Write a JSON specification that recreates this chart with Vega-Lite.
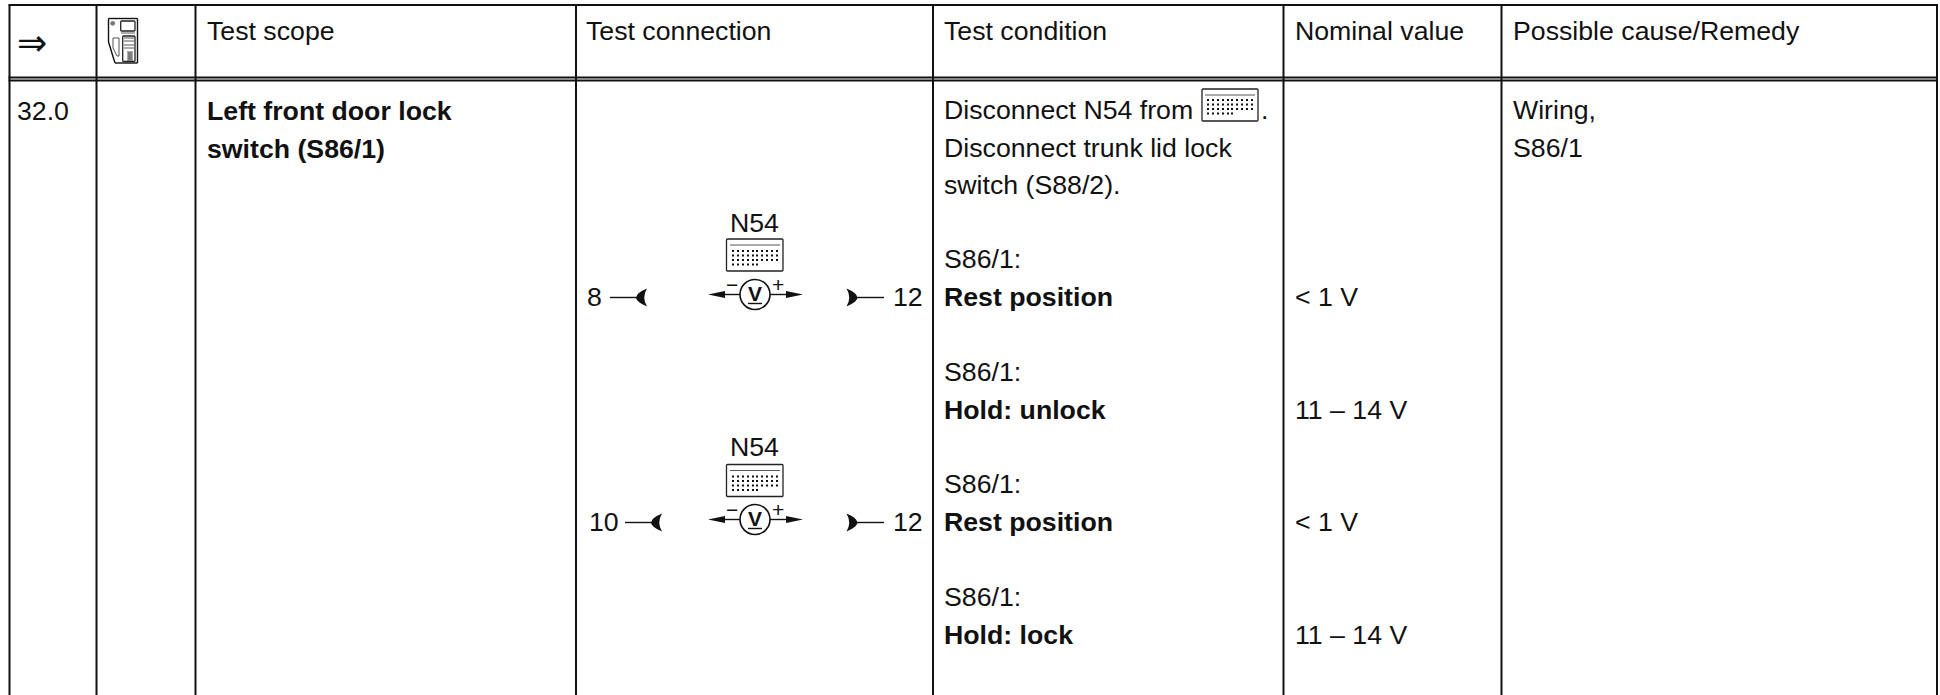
{
"$schema":"https://vega.github.io/schema/vega-lite/v6.json",
"width":1940,"height":695,"padding":0,"autosize":{"type":"none"},
"background":"white",
"config":{"view":{"stroke":null}},
"datasets":{
"plain":[
{"x":207,"y":40,"t":"Test scope"},{"x":586,"y":40,"t":"Test connection"},{"x":944,"y":40,"t":"Test condition"},{"x":1295,"y":40,"t":"Nominal value"},{"x":1513,"y":40,"t":"Possible cause/Remedy"},
{"x":17,"y":120,"t":"32.0"},
{"x":944,"y":119,"t":"Disconnect N54 from"},{"x":1261,"y":119,"t":"."},{"x":944,"y":157,"t":"Disconnect trunk lid lock"},{"x":944,"y":194,"t":"switch (S88/2)."},
{"x":944,"y":268,"t":"S86/1:"},{"x":944,"y":381,"t":"S86/1:"},{"x":944,"y":493,"t":"S86/1:"},{"x":944,"y":606,"t":"S86/1:"},
{"x":1295,"y":306,"t":"< 1 V"},{"x":1295,"y":419,"t":"11 – 14 V"},{"x":1295,"y":531,"t":"< 1 V"},{"x":1295,"y":644,"t":"11 – 14 V"},
{"x":1513,"y":119,"t":"Wiring,"},{"x":1513,"y":157,"t":"S86/1"},
{"x":730,"y":232,"t":"N54"},{"x":730,"y":456,"t":"N54"},
{"x":587,"y":306,"t":"8"},{"x":589,"y":531,"t":"10"},{"x":893,"y":306,"t":"12"},{"x":893,"y":531,"t":"12"}
],
"bold":[
{"x":207,"y":120,"t":"Left front door lock"},{"x":207,"y":158,"t":"switch (S86/1)"},
{"x":944,"y":306,"t":"Rest position"},{"x":944,"y":419,"t":"Hold: unlock"},{"x":944,"y":531,"t":"Rest position"},{"x":944,"y":644,"t":"Hold: lock"}
],
"signs":[
{"x":755,"y":300.5,"t":"V"},{"x":755,"y":525.5,"t":"V"}
],
"pm":[
{"x":732,"y":292,"t":"−"},{"x":778,"y":292,"t":"+"},{"x":732,"y":517,"t":"−"},{"x":778,"y":517,"t":"+"}
],
"heavy":[
{"x":9.5,"y":5,"x2":9.5,"y2":695},{"x":96.5,"y":5,"x2":96.5,"y2":695},{"x":195.5,"y":5,"x2":195.5,"y2":695},{"x":576,"y":5,"x2":576,"y2":695},{"x":933,"y":5,"x2":933,"y2":695},{"x":1283.5,"y":5,"x2":1283.5,"y2":695},{"x":1501.5,"y":5,"x2":1501.5,"y2":695},{"x":1937,"y":5,"x2":1937,"y2":695},
{"x":8.5,"y":5,"x2":1938,"y2":5},{"x":8.5,"y":77.5,"x2":1938,"y2":77.5},{"x":8.5,"y":80.5,"x2":1938,"y2":80.5}
],
"thin":[
{"x":610,"y":297.5,"x2":638,"y2":297.5},{"x":855,"y":297.5,"x2":884,"y2":297.5},{"x":625,"y":522.5,"x2":653,"y2":522.5},{"x":855,"y":522.5,"x2":884,"y2":522.5},
{"x":720,"y":294.5,"x2":740,"y2":294.5},{"x":770,"y":294.5,"x2":790,"y2":294.5},{"x":720,"y":519.5,"x2":740,"y2":519.5},{"x":770,"y":519.5,"x2":790,"y2":519.5},
{"x":748,"y":303.5,"x2":762,"y2":303.5},{"x":748,"y":528.5,"x2":762,"y2":528.5},
{"x":108.5,"y":18.5,"x2":137.5,"y2":18.5},{"x":137.5,"y":18.5,"x2":137.5,"y2":63},{"x":137.5,"y":63,"x2":115,"y2":63},{"x":115,"y":63,"x2":108.5,"y2":42},{"x":108.5,"y":42,"x2":108.5,"y2":18.5}
],
"hair":[
{"x":730,"y":245,"x2":780,"y2":245},{"x":730,"y":470.5,"x2":780,"y2":470.5},{"x":1205,"y":95,"x2":1255,"y2":95},
{"x":113,"y":38,"x2":119,"y2":38},{"x":113,"y":38,"x2":113,"y2":48},{"x":113,"y":48,"x2":117,"y2":56},{"x":117,"y":56,"x2":119,"y2":56},{"x":119,"y":56,"x2":119,"y2":38},
{"x":121,"y":33,"x2":135,"y2":33},{"x":124,"y":38,"x2":134,"y2":38},{"x":124,"y":41,"x2":134,"y2":41},{"x":124,"y":45,"x2":134,"y2":45},{"x":124,"y":48,"x2":134,"y2":48},
{"x":127,"y":52,"x2":133,"y2":52},{"x":127,"y":54,"x2":133,"y2":54},{"x":127,"y":56,"x2":133,"y2":56},{"x":127,"y":58,"x2":133,"y2":58},{"x":127,"y":60,"x2":133,"y2":60},
{"x":129,"y":52,"x2":129,"y2":60},{"x":131,"y":52,"x2":131,"y2":60}
],
"boxes":[
{"x":726.5,"y":239,"x2":783,"y2":271},{"x":726.5,"y":464.5,"x2":783,"y2":496.5},{"x":1202,"y":89,"x2":1258,"y2":121},
{"x":120.7,"y":21,"x2":135,"y2":31},{"x":122.7,"y":36,"x2":135,"y2":61.5}
],
"circles":[{"x":755,"y":294.5},{"x":755,"y":519.5}],
"arrowL":[{"x":716.5,"y":294.5},{"x":716.5,"y":519.5}],
"arrowR":[{"x":794.5,"y":294.5},{"x":794.5,"y":519.5}],
"crescL":[{"x":642.5,"y":297.5},{"x":657.5,"y":522.5}],
"crescR":[{"x":851,"y":297.5},{"x":851,"y":522.5}],
"knob":[{"x":112.7,"y":23.3}],
"dots":[
{"x":733,"y":251},{"x":738,"y":251},{"x":743,"y":251},{"x":748,"y":251},{"x":753,"y":251},{"x":757,"y":251},{"x":762,"y":251},{"x":767,"y":251},{"x":772,"y":251},{"x":777,"y":251},
{"x":733,"y":255.5},{"x":738,"y":255.5},{"x":743,"y":255.5},{"x":748,"y":255.5},{"x":753,"y":255.5},{"x":757,"y":255.5},{"x":762,"y":255.5},{"x":767,"y":255.5},{"x":772,"y":255.5},{"x":777,"y":255.5},
{"x":733,"y":260},{"x":738,"y":260},{"x":743,"y":260},{"x":748,"y":260},{"x":753,"y":260},{"x":757,"y":260},{"x":762,"y":260},{"x":767,"y":260},{"x":772,"y":260},{"x":777,"y":260},
{"x":733,"y":264.5},{"x":738,"y":264.5},{"x":743,"y":264.5},{"x":748,"y":264.5},{"x":753,"y":264.5},{"x":757,"y":264.5},
{"x":733,"y":476.5},{"x":738,"y":476.5},{"x":743,"y":476.5},{"x":748,"y":476.5},{"x":753,"y":476.5},{"x":757,"y":476.5},{"x":762,"y":476.5},{"x":767,"y":476.5},{"x":772,"y":476.5},{"x":777,"y":476.5},
{"x":733,"y":481},{"x":738,"y":481},{"x":743,"y":481},{"x":748,"y":481},{"x":753,"y":481},{"x":757,"y":481},{"x":762,"y":481},{"x":767,"y":481},{"x":772,"y":481},{"x":777,"y":481},
{"x":733,"y":485.5},{"x":738,"y":485.5},{"x":743,"y":485.5},{"x":748,"y":485.5},{"x":753,"y":485.5},{"x":757,"y":485.5},{"x":762,"y":485.5},{"x":767,"y":485.5},{"x":772,"y":485.5},{"x":777,"y":485.5},
{"x":733,"y":490},{"x":738,"y":490},{"x":743,"y":490},{"x":748,"y":490},{"x":753,"y":490},{"x":757,"y":490},
{"x":1208,"y":100},{"x":1213,"y":100},{"x":1218,"y":100},{"x":1223,"y":100},{"x":1228,"y":100},{"x":1232,"y":100},{"x":1237,"y":100},{"x":1242,"y":100},{"x":1247,"y":100},{"x":1252,"y":100},
{"x":1208,"y":104.5},{"x":1213,"y":104.5},{"x":1218,"y":104.5},{"x":1223,"y":104.5},{"x":1228,"y":104.5},{"x":1232,"y":104.5},{"x":1237,"y":104.5},{"x":1242,"y":104.5},{"x":1247,"y":104.5},{"x":1252,"y":104.5},
{"x":1208,"y":109},{"x":1213,"y":109},{"x":1218,"y":109},{"x":1223,"y":109},{"x":1228,"y":109},{"x":1232,"y":109},{"x":1237,"y":109},{"x":1242,"y":109},{"x":1247,"y":109},{"x":1252,"y":109},
{"x":1208,"y":113.5},{"x":1213,"y":113.5},{"x":1218,"y":113.5},{"x":1223,"y":113.5},{"x":1228,"y":113.5},{"x":1232,"y":113.5}
],
"arrow":[{"x":17,"y":55,"t":"⇒"}]
},
"encoding":{
"x":{"field":"x","type":"quantitative","scale":{"domain":[0,1940],"nice":false,"zero":false},"axis":null},
"y":{"field":"y","type":"quantitative","scale":{"domain":[0,695],"reverse":true,"nice":false,"zero":false},"axis":null}
},
"layer":[
{"data":{"name":"heavy"},"mark":{"type":"rule","stroke":"#111","strokeWidth":2},"encoding":{"x2":{"field":"x2"},"y2":{"field":"y2"}}},
{"data":{"name":"circles"},"mark":{"type":"point","shape":"circle","filled":false,"fill":"white","fillOpacity":1,"stroke":"#111","strokeWidth":1.6,"size":900,"opacity":1}},
{"data":{"name":"thin"},"mark":{"type":"rule","stroke":"#111","strokeWidth":1.4},"encoding":{"x2":{"field":"x2"},"y2":{"field":"y2"}}},
{"data":{"name":"hair"},"mark":{"type":"rule","stroke":"#444","strokeWidth":0.9},"encoding":{"x2":{"field":"x2"},"y2":{"field":"y2"}}},
{"data":{"name":"boxes"},"mark":{"type":"rect","fill":null,"fillOpacity":0,"stroke":"#222","strokeWidth":1.3,"cornerRadius":1},"encoding":{"x2":{"field":"x2"},"y2":{"field":"y2"}}},
{"data":{"name":"dots"},"mark":{"type":"point","shape":"square","filled":true,"color":"#111","size":4,"opacity":1,"strokeWidth":0}},
{"data":{"name":"knob"},"mark":{"type":"point","shape":"circle","filled":true,"color":"#777","size":22,"opacity":1}},
{"data":{"name":"arrowL"},"mark":{"type":"point","shape":"M-1,0L1,-0.42L1,0.42Z","filled":true,"color":"#111","size":289,"opacity":1,"strokeWidth":0}},
{"data":{"name":"arrowR"},"mark":{"type":"point","shape":"M1,0L-1,-0.42L-1,0.42Z","filled":true,"color":"#111","size":289,"opacity":1,"strokeWidth":0}},
{"data":{"name":"crescL"},"mark":{"type":"point","shape":"M0.5,-1Q-1.9,0 0.5,1Q-0.1,0 0.5,-1Z","filled":true,"color":"#111","size":324,"opacity":1,"strokeWidth":0}},
{"data":{"name":"crescR"},"mark":{"type":"point","shape":"M-0.5,-1Q1.9,0 -0.5,1Q0.1,0 -0.5,-1Z","filled":true,"color":"#111","size":324,"opacity":1,"strokeWidth":0}},
{"data":{"name":"plain"},"mark":{"type":"text","align":"left","baseline":"alphabetic","font":"Liberation Sans","fontSize":26.7,"color":"#111"},"encoding":{"text":{"field":"t"}}},
{"data":{"name":"bold"},"mark":{"type":"text","align":"left","baseline":"alphabetic","font":"Liberation Sans","fontWeight":"bold","fontSize":26.7,"color":"#111"},"encoding":{"text":{"field":"t"}}},
{"data":{"name":"signs"},"mark":{"type":"text","align":"center","baseline":"alphabetic","font":"Liberation Sans","fontWeight":"bold","fontSize":21,"color":"#111"},"encoding":{"text":{"field":"t"}}},
{"data":{"name":"pm"},"mark":{"type":"text","align":"center","baseline":"alphabetic","font":"Liberation Sans","fontSize":21,"color":"#111"},"encoding":{"text":{"field":"t"}}},
{"data":{"name":"arrow"},"mark":{"type":"text","align":"left","baseline":"alphabetic","font":"DejaVu Sans","fontSize":36,"color":"#111"},"encoding":{"text":{"field":"t"}}}
]
}
